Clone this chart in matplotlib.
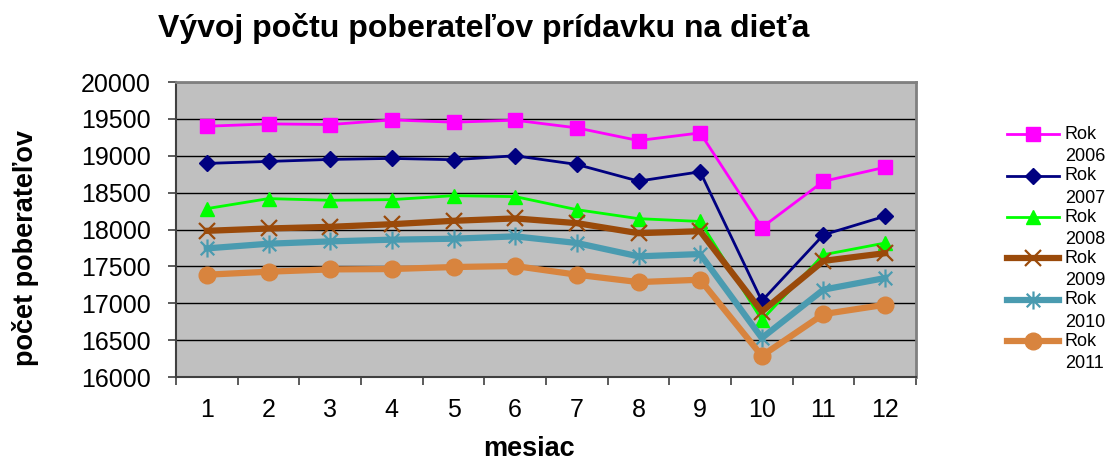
import matplotlib
matplotlib.use("Agg")
import matplotlib.pyplot as plt
from matplotlib.ticker import MultipleLocator, FixedLocator
from matplotlib.legend_handler import HandlerLine2D
from matplotlib.path import Path

plt.rcParams['font.family'] = ['Liberation Sans', 'DejaVu Sans']

months = [1, 2, 3, 4, 5, 6, 7, 8, 9, 10, 11, 12]
years = ["2006", "2007", "2008", "2009", "2010", "2011"]
r2006 = [19400, 19432, 19423, 19486, 19455, 19482, 19378, 19206, 19310, 18027, 18654, 18844]
r2007 = [18896, 18923, 18950, 18964, 18946, 19000, 18882, 18656, 18783, 17032, 17928, 18181]
r2008 = [18283, 18419, 18396, 18405, 18459, 18446, 18269, 18147, 18109, 16774, 17658, 17817]
r2009 = [17982, 18014, 18036, 18072, 18118, 18150, 18086, 17950, 17977, 16887, 17575, 17679]
r2010 = [17744, 17807, 17839, 17862, 17875, 17907, 17817, 17636, 17667, 16528, 17185, 17342]
r2011 = [17387, 17428, 17459, 17464, 17491, 17505, 17387, 17287, 17319, 16287, 16853, 16980]
series = [r2006, r2007, r2008, r2009, r2010, r2011]

# asterisk marker: vertical stroke plus an X
ast = Path([(0, -1), (0, 1), (-0.75, -0.75), (0.75, 0.75), (-0.75, 0.75), (0.75, -0.75)],
           [Path.MOVETO, Path.LINETO, Path.MOVETO, Path.LINETO, Path.MOVETO, Path.LINETO])

styles = [
    dict(color="#FF00FF", lw=2.0, marker="s", ms=10),
    dict(color="#000080", lw=2.0, marker="D", ms=8),
    dict(color="#00FF00", lw=2.0, marker="^", ms=10),
    dict(color="#9A4A0A", lw=4.5, marker="x", ms=11, mew=1.6),
    dict(color="#4A9BB0", lw=4.5, marker=ast, ms=13, mew=1.6),
    dict(color="#D8843E", lw=4.5, marker="o", ms=12),
]


class UpHandler(HandlerLine2D):
    def create_artists(self, legend, orig_handle, xdescent, ydescent, width,
                       height, fontsize, trans):
        shift = 0.64 * fontsize
        return super().create_artists(legend, orig_handle, xdescent,
                                      ydescent - 2 * shift, width, height,
                                      fontsize, trans)


fig = plt.figure(figsize=(11.07, 4.61), dpi=100)
ax = fig.add_axes([176/1107, 84/461, 740/1107, 295/461])
ax.set_facecolor("#C0C0C0")

lines = []
for vals, yr, st in zip(series, years, styles):
    ln, = ax.plot(months, vals, label="Rok\n" + yr, zorder=3, **st)
    lines.append(ln)

ax.set_xlim(0.5, 12.5)
ax.set_ylim(16000, 20000)
ax.yaxis.set_major_locator(MultipleLocator(500))
ax.set_xticks(months)
ax.set_xticklabels([str(m) for m in months])
ax.xaxis.set_minor_locator(FixedLocator([m - 0.5 for m in months] + [12.5]))
ax.tick_params(axis="x", which="major", length=0, pad=15, labelsize=18)
ax.tick_params(axis="x", which="minor", length=6, width=1.2, direction="out", color="#404040")
ax.tick_params(axis="y", which="major", length=6, width=1.2, direction="out", pad=12, labelsize=18, color="#404040")
ax.grid(axis="y", color="black", lw=1.0, zorder=1)
ax.set_axisbelow(True)

for s in ["top", "right"]:
    ax.spines[s].set_color("#808080")
    ax.spines[s].set_linewidth(2)
for s in ["left", "bottom"]:
    ax.spines[s].set_color("#404040")
    ax.spines[s].set_linewidth(1.5)

fig.text(484/1107, 1 - 29/461, "Vývoj počtu poberateľov prídavku na dieťa",
         ha="center", va="center", fontsize=23, fontweight="bold")
fig.text(529/1107, 1 - 449/461, "mesiac", ha="center", va="center",
         fontsize=19.5, fontweight="bold")
fig.text(26/1107, 1 - 248/461, "počet poberateľov", ha="center", va="center",
         rotation=90, fontsize=19.5, fontweight="bold")

hmap = {ln: UpHandler() for ln in lines}
leg = ax.legend(loc="upper left", bbox_to_anchor=(1007/1107, 1 - 126/461),
                bbox_transform=fig.transFigure, frameon=False, fontsize=13,
                handlelength=2.9, handletextpad=0.3, labelspacing=0.12,
                borderpad=0, borderaxespad=0, handler_map=hmap)
for t in leg.get_texts():
    t.set_linespacing(1.4)

fig.savefig("out.png", dpi=100)
